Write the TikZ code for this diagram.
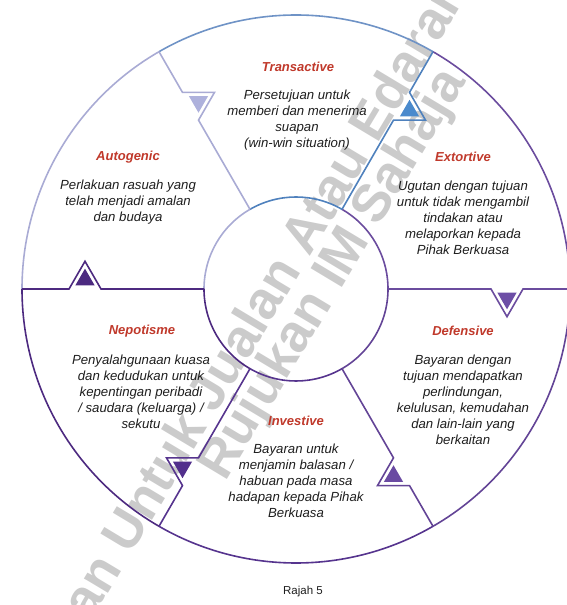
\documentclass[tikz,border=0pt]{standalone}
\usepackage{fontspec}
\setmainfont{Liberation Sans}
\usetikzlibrary{calc}
\definecolor{cLav}{HTML}{A9ABD4}
\definecolor{cBlue}{HTML}{4F81BD}
\definecolor{cTop}{HTML}{6F93C6}
\definecolor{cPur}{HTML}{6B4C9E}
\definecolor{cDef}{HTML}{634496}
\definecolor{cInv}{HTML}{56348E}
\definecolor{cNep}{HTML}{4D2A80}
\definecolor{tLav}{HTML}{AEB1DC}
\definecolor{tBlue}{HTML}{4A8ACD}
\definecolor{tPur}{HTML}{6D4EA6}
\definecolor{tDef}{HTML}{6A4AA2}
\definecolor{tInv}{HTML}{52308C}
\definecolor{tNep}{HTML}{4C2A80}
\definecolor{titleRed}{HTML}{C0392B}
\definecolor{bodyText}{HTML}{1E1E1E}
\definecolor{wmGray}{HTML}{CBCBCB}
\begin{document}
\begin{tikzpicture}[x=1pt,y=1pt,
  seg/.style={line width=1.6pt, line join=miter},
  ttl/.style={font=\bfseries\itshape\fontsize{13}{15.6}\selectfont, text=titleRed, inner sep=0pt},
  body/.style={font=\itshape\fontsize{13.2}{16}\selectfont, align=center, text=bodyText, inner sep=0pt},
  captext/.style={font=\fontsize{11.5}{14}\selectfont, text=bodyText, inner sep=0pt},
  wm/.style={font=\bfseries\fontsize{53}{60}\selectfont, text=wmGray, rotate=59, inner sep=0pt}
]
\useasboundingbox (0,0) rectangle (567,605);
% watermark (beneath the diagram)
\begin{scope}
\clip (0,0) rectangle (567,605);
\node[wm] (w1) at (259,300) {ran Untuk Jualan Atau Edaran};
\node[wm] (w2) at (334,330) {Rujukan IM Sahaja};
\end{scope}
\coordinate (O) at (296,316);
% outer and inner arcs of the six segments
\foreach \a/\co/\ci in {0/cPur/cPur,60/cTop/cBlue,120/cLav/cLav,180/cNep/cNep,240/cInv/cInv,300/cDef/cDef}{
  \pgfmathsetmacro{\e}{\a+60}
  \draw[seg,\co] ($(O)+(\a:274pt)$) arc[start angle=\a, end angle=\e, radius=274pt];
  \draw[seg,\ci] ($(O)+(\a:92pt)$) arc[start angle=\a, end angle=\e, radius=92pt];
}
% spokes with notches and filled triangles
\foreach \a/\c/\f in {0/cPur/tPur,60/cBlue/tBlue,120/cLav/tLav,180/cNep/tNep,240/cInv/tInv,300/cDef/tDef}{
  \pgfmathsetmacro{\b}{\a-90}
  \coordinate (p1) at ($(O)+(\a:92pt)$);
  \coordinate (p2) at ($(O)+(\a:195pt)$);
  \coordinate (p3) at ($(O)+(\a:211pt)+(\b:27.7pt)$);
  \coordinate (p4) at ($(O)+(\a:227pt)$);
  \coordinate (p5) at ($(O)+(\a:274pt)$);
  \coordinate (g) at ($(O)+(\a:211pt)+(\b:9.23pt)$);
  \fill[\f] ($(g)!0.6!(p2)$) -- ($(g)!0.6!(p3)$) -- ($(g)!0.6!(p4)$) -- cycle;
  \draw[seg,\c] (p1) -- (p2) -- (p3) -- (p4) -- (p5);
}
% texts
\node[ttl] (tT) at (298,538) {Transactive};
\node[body] (bT) at (297,485) {Persetujuan untuk\\memberi dan menerima\\suapan\\(win-win situation)};
\node[ttl] (tA) at (128,448) {Autogenic};
\node[body] (bA) at (128,403) {Perlakuan rasuah yang\\telah menjadi amalan\\dan budaya};
\node[ttl] (tE) at (463,448) {Extortive};
\node[body] (bE) at (463,387) {Ugutan dengan tujuan\\untuk tidak mengambil\\tindakan atau\\melaporkan kepada\\Pihak Berkuasa};
\node[ttl] (tD) at (463,274) {Defensive};
\node[body] (bD) at (463,205) {Bayaran dengan\\tujuan mendapatkan\\perlindungan,\\kelulusan, kemudahan\\dan lain-lain yang\\berkaitan};
\node[ttl] (tI) at (296,184) {Investive};
\node[body] (bI) at (296,124) {Bayaran untuk\\menjamin balasan /\\habuan pada masa\\hadapan kepada Pihak\\Berkuasa};
\node[ttl] (tN) at (142,274) {Nepotisme};
\node[body] (bN) at (141,213) {Penyalahgunaan kuasa\\dan kedudukan untuk\\kepentingan peribadi\\/ saudara (keluarga) /\\sekutu};
\node[captext] (caption) at (303,13) {Rajah 5};
\end{tikzpicture}
\end{document}
